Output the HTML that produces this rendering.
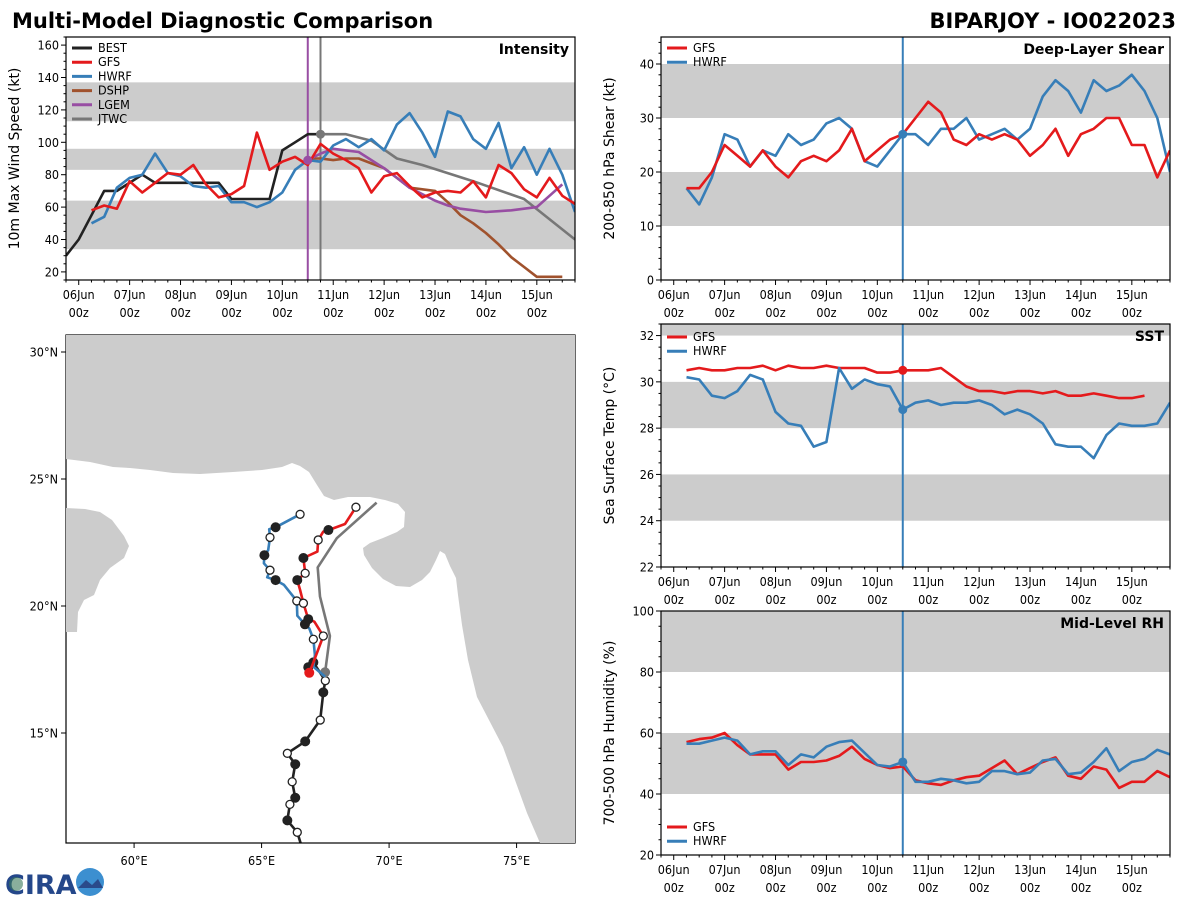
<!DOCTYPE html>
<html><head><meta charset="utf-8">
<style>
html,body{margin:0;padding:0;background:#fff;}
svg text{font-family:"DejaVu Sans","Liberation Sans",sans-serif;}
svg text.tk{font-family:"DejaVu Sans Condensed","DejaVu Sans","Liberation Sans Narrow",sans-serif;}
</style></head>
<body>
<svg id="fig" width="1200" height="900" viewBox="0 0 1200 900" xmlns="http://www.w3.org/2000/svg">
<rect width="1200" height="900" fill="#fff"/>
<text x="12" y="28" font-size="21" font-weight="bold">Multi-Model Diagnostic Comparison</text>
<text x="1176" y="28" font-size="21" font-weight="bold" text-anchor="end">BIPARJOY - IO022023</text>
<g id="logo">
<text x="5" y="894" font-size="27" font-weight="bold" fill="#24478a" font-family="Liberation Sans">CIRA</text>
<circle cx="16" cy="884" r="7" fill="#3a7a5a" opacity="0.6"/>
<circle cx="90" cy="882" r="14" fill="#3c8fd0"/>
<path d="M78,888 L86,880 L92,885 L98,879 L103,888 Z" fill="#2a4a8a"/>
</g>
</svg>
<script>
// ---------------- DATA ----------------
const dayLabels = ["06Jun","07Jun","08Jun","09Jun","10Jun","11Jun","12Jun","13Jun","14Jun","15Jun"];
const bestTimes = [-0.25,0,0.25,0.5,0.75,1,1.25,1.5,1.75,2,2.25,2.5,2.75,3,3.25,3.5,3.75,4,4.25,4.5,4.75];
const bestVmax = [30,40,55,70,70,75,80,75,75,75,75,75,75,65,65,65,65,95,100,105,105];
const gfsVmax = [58,61,59,76,69,75,81,80,86,74,66,68,73,106,83,88,91,86,99,93,89,84,69,79,81,73,66,69,70,69,76,66,86,81,71,66,78,67,62];
const hwrfVmax = [50,54,72,78,80,93,81,79,73,72,73,63,63,60,63,69,83,89,88,98,102,97,102,95,111,118,106,91,119,116,102,96,112,84,97,80,96,80,57];
const dshpVmax = [90,90,89,90,90,87,84,78,72,71,70,63,55,50,44,37,29,23,17,17,17];
const lgemVmax = [89,93,96,95,94,89,84,78,72,68,64,61,59,58,57,57.5,58,59,60,67,74];
const jtwcTimes = [4.75,5.25,5.75,6.25,6.75,7.75,8.75,9.75];
const jtwcVmax = [105,105,101,90,86,76,65,40];
const gfsShear = [17,17,20,25,23,21,24,21,19,22,23,22,24,28,22,24,26,27,30,33,31,26,25,27,26,27,26,23,25,28,23,27,28,30,30,25,25,19,24];
const hwrfShear = [17,14,19,27,26,21,24,23,27,25,26,29,30,28,22,21,24,27,27,25,28,28,30,26,27,28,26,28,34,37,35,31,37,35,36,38,35,30,20];
const gfsSST = [30.5,30.6,30.5,30.5,30.6,30.6,30.7,30.5,30.7,30.6,30.6,30.7,30.6,30.6,30.6,30.4,30.4,30.5,30.5,30.5,30.6,30.2,29.8,29.6,29.6,29.5,29.6,29.6,29.5,29.6,29.4,29.4,29.5,29.4,29.3,29.3,29.4];
const hwrfSST = [30.2,30.1,29.4,29.3,29.6,30.3,30.1,28.7,28.2,28.1,27.2,27.4,30.6,29.7,30.1,29.9,29.8,28.8,29.1,29.2,29.0,29.1,29.1,29.2,29.0,28.6,28.8,28.6,28.2,27.3,27.2,27.2,26.7,27.7,28.2,28.1,28.1,28.2,29.1];
const gfsRH = [57,58,58.5,60,56,53,53,53,48,50.5,50.5,51,52.5,55.5,51.5,49.5,48.5,49,44.5,43.5,43,44.5,45.5,46,48.5,51,46.5,48.5,50.5,52,46,45,49,48,42,44,44,47.5,45.5];
const hwrfRH = [56.5,56.5,57.5,58.5,57.5,53,54,54,49.5,53,52,55.5,57,57.5,53.5,49.5,49,50.5,44,44,45,44.5,43.5,44,47.5,47.5,46.5,47,51,51.5,46.5,47,50.5,55,47.5,50.5,51.5,54.5,53];
const bestLon = [66.55,66.40,66.01,66.11,66.32,66.20,66.32,66.01,66.71,67.30,67.42,67.50,67.03,66.83];
const bestLat = [10.6,11.09,11.56,12.19,12.45,13.08,13.77,14.20,14.67,15.51,16.60,17.06,17.78,17.59];
const bestMark = ["","o","f","o","f","o","f","o","f","o","f","o","f","f"];
const gfsLon = [66.87,67.03,67.42,67.07,66.83,66.64,66.51,66.40,66.71,66.64,67.19,67.22,67.42,67.62,68.27,68.70];
const gfsLat = [17.37,17.78,18.82,19.38,19.48,20.11,20.63,21.02,21.29,21.89,22.14,22.60,22.93,22.99,23.23,23.89];
const gfsMark = ["r","","o","","f","o","","f","o","f","","o","","f","","o"];
const hwrfLon = [67.49,67.03,67.09,67.03,66.87,66.70,66.40,66.38,65.88,65.55,65.22,65.33,65.09,65.11,65.26,65.33,65.30,65.55,66.51];
const hwrfLat = [17.22,17.61,18.07,18.69,19.12,19.28,19.62,20.20,20.83,21.02,21.13,21.41,21.68,22.00,22.20,22.70,23.02,23.10,23.61];
const hwrfMark = ["","","","o","","f","","o","","f","","o","","f","","o","","f","o"];
const jtwcLon = [67.49,67.68,67.29,67.20,67.95,69.51];
const jtwcLat = [17.39,18.82,20.37,21.52,22.67,24.07];
const lonTicks = [60,65,70,75];
const latTicks = [15,20,25,30];

// ---------------- HELPERS ----------------
const NS = "http://www.w3.org/2000/svg";
const svg = document.getElementById("fig");
function el(tag, attrs, parent){
  const e = document.createElementNS(NS, tag);
  for (const k in attrs) e.setAttribute(k, attrs[k]);
  (parent||svg).appendChild(e);
  return e;
}
const C = {best:"#222222", gfs:"#e41a1c", hwrf:"#377eb8", dshp:"#a0522d", lgem:"#984ea3", jtwc:"#777777"};
function seq(start, n){ const a=[]; for(let i=0;i<n;i++) a.push(start+0.25*i); return a; }

function makePanel(cfg){
  const g = el("g", {});
  
  
  const X = t => cfg.x0 + (t - (-0.25)) / 10 * (cfg.x1 - cfg.x0);
  const Y = v => cfg.y1 - (v - cfg.ymin) / (cfg.ymax - cfg.ymin) * (cfg.y1 - cfg.y0);
  cfg.bands.forEach(b => {
    const r = el("rect", {x:cfg.x0, y:Y(Math.min(b[1],cfg.ymax)), width:cfg.x1-cfg.x0, height:Y(b[0])-Y(Math.min(b[1],cfg.ymax)), fill:"#cccccc"}, g);
    
    
  });
  for (let v = cfg.ymin; v <= cfg.ymax + 1e-9; v += cfg.minor) {
    const vv = Math.round(v*100)/100;
    const isMaj = Math.abs((vv - cfg.tick0) / cfg.major - Math.round((vv - cfg.tick0) / cfg.major)) < 1e-6 && vv >= cfg.tick0;
    el("line", {x1:cfg.x0, x2:cfg.x0-(isMaj?5:2.5), y1:Y(vv), y2:Y(vv), stroke:"#000", "stroke-width":1}, g);
    if (isMaj) {
      const t = el("text", {x:cfg.x0-7, y:Y(vv)+4.5, "font-size":12.5, "text-anchor":"end", "class":"tk"}, g);
      t.textContent = String(vv);
      
      
    }
  }
  for (let i = -1; i <= 39; i++) {
    const t = i * 0.25;
    if (t < -0.25 || t > 9.75) continue;
    const maj = (i % 4 === 0);
    el("line", {x1:X(t), x2:X(t), y1:cfg.y1, y2:cfg.y1+(maj?5:2.5), stroke:"#000", "stroke-width":1}, g);
    if (maj && cfg.xlabels) {
      const lab = el("text", {x:X(t), y:cfg.y1+19, "font-size":12.5, "text-anchor":"middle", "class":"tk"}, g);
      lab.textContent = dayLabels[i/4];
      
      
      const lab2 = el("text", {x:X(t), y:cfg.y1+37, "font-size":12.5, "text-anchor":"middle", "class":"tk"}, g);
      lab2.textContent = "00z";
      
      
    }
  }
  const yl = el("text", {transform:`translate(${cfg.x0-47},${(cfg.y0+cfg.y1)/2}) rotate(-90)`, "font-size":14, "text-anchor":"middle"}, g);
  yl.textContent = cfg.ylabel;
  
  
  const cid = "clip-" + cfg.name;
  const cp = el("clipPath", {id:cid}, g);
  el("rect", {x:cfg.x0, y:cfg.y0, width:cfg.x1-cfg.x0, height:cfg.y1-cfg.y0}, cp);
  const plot = el("g", {"clip-path":`url(#${cid})`}, g);
  (cfg.vlines||[]).forEach(v => {
    const l = el("line", {x1:X(v.t), x2:X(v.t), y1:cfg.y0, y2:cfg.y1, stroke:v.color, "stroke-width":2}, plot);
    
    
  });
  cfg.series.forEach(s => {
    const pts = s.t.map((t,i)=>`${X(t).toFixed(1)},${Y(s.v[i]).toFixed(1)}`).join(" ");
    const pl = el("polyline", {points:pts, fill:"none", stroke:s.color, "stroke-width":2.6, "stroke-linejoin":"round"}, plot);
    
    
  });
  (cfg.dots||[]).forEach(d => {
    const c = el("circle", {cx:X(d.t), cy:Y(d.v), r:4.5, fill:d.color}, plot);
    
    
  });
  el("rect", {x:cfg.x0, y:cfg.y0, width:cfg.x1-cfg.x0, height:cfg.y1-cfg.y0, fill:"none", stroke:"#000", "stroke-width":1.2}, g);
  const ti = el("text", {x:cfg.x1-6, y:cfg.y0+17, "font-size":14, "font-weight":"bold", "text-anchor":"end"}, g);
  ti.textContent = cfg.title;
  
  
  drawLegend(g, cfg.x0+6, cfg.legendY, cfg.legend);
  return {X, Y};
}
function drawLegend(g, x, y, items){
  items.forEach((it, i) => {
    const yy = y + i*14.2;
    const ln = el("line", {x1:x, x2:x+20, y1:yy, y2:yy, stroke:it.color, "stroke-width":3}, g);
    
    
    const t = el("text", {x:x+26, y:yy+4, "font-size":12.5, "class":"tk"}, g);
    t.textContent = it.label;
    
    
  });
}

makePanel({name:"intensity-panel", x0:66, x1:575, y0:37, y1:280, ymin:15, ymax:165, tick0:20, major:20, minor:5,
  bands:[[34,64],[83,96],[113,137]], xlabels:true, ylabel:"10m Max Wind Speed (kt)", title:"Intensity",
  vlines:[{t:4.5,color:C.lgem},{t:4.75,color:C.jtwc}],
  series:[
    {key:"best", t:bestTimes, v:bestVmax, color:C.best},
    {key:"jtwc", t:jtwcTimes, v:jtwcVmax, color:C.jtwc},
    {key:"dshp", t:seq(4.5,dshpVmax.length), v:dshpVmax, color:C.dshp},
    {key:"lgem", t:seq(4.5,lgemVmax.length), v:lgemVmax, color:C.lgem},
    {key:"hwrf", t:seq(0.25,hwrfVmax.length), v:hwrfVmax, color:C.hwrf},
    {key:"gfs", t:seq(0.25,gfsVmax.length), v:gfsVmax, color:C.gfs}
  ],
  dots:[{t:4.5,v:lgemVmax[0],color:C.lgem},{t:4.75,v:jtwcVmax[0],color:C.jtwc}],
  legendY:48,
  legend:[{label:"BEST",color:C.best},{label:"GFS",color:C.gfs},{label:"HWRF",color:C.hwrf},{label:"DSHP",color:C.dshp},{label:"LGEM",color:C.lgem},{label:"JTWC",color:C.jtwc}]
});
makePanel({name:"shear-panel", x0:661, x1:1170, y0:37, y1:280, ymin:0, ymax:45, tick0:0, major:10, minor:2,
  bands:[[10,20],[30,40]], xlabels:true, ylabel:"200-850 hPa Shear (kt)", title:"Deep-Layer Shear",
  vlines:[{t:4.5,color:C.hwrf}],
  series:[{key:"hwrf", t:seq(0.25,hwrfShear.length), v:hwrfShear, color:C.hwrf},{key:"gfs", t:seq(0.25,gfsShear.length), v:gfsShear, color:C.gfs}],
  dots:[{t:4.5,v:hwrfShear[17],color:C.hwrf}],
  legendY:48, legend:[{label:"GFS",color:C.gfs},{label:"HWRF",color:C.hwrf}]
});
makePanel({name:"sst-panel", x0:661, x1:1170, y0:324, y1:567, ymin:22, ymax:32.5, tick0:22, major:2, minor:0.5,
  bands:[[24,26],[28,30],[32,32.5]], xlabels:true, ylabel:"Sea Surface Temp (°C)", title:"SST",
  vlines:[{t:4.5,color:C.hwrf}],
  series:[{key:"gfs", t:seq(0.25,gfsSST.length), v:gfsSST, color:C.gfs},{key:"hwrf", t:seq(0.25,hwrfSST.length), v:hwrfSST, color:C.hwrf}],
  dots:[{t:4.5,v:gfsSST[17],color:C.gfs},{t:4.5,v:hwrfSST[17],color:C.hwrf}],
  legendY:337, legend:[{label:"GFS",color:C.gfs},{label:"HWRF",color:C.hwrf}]
});
makePanel({name:"rh-panel", x0:661, x1:1170, y0:611, y1:855, ymin:20, ymax:100, tick0:20, major:20, minor:5,
  bands:[[40,60],[80,100]], xlabels:true, ylabel:"700-500 hPa Humidity (%)", title:"Mid-Level RH",
  vlines:[{t:4.5,color:C.hwrf}],
  series:[{key:"gfs", t:seq(0.25,gfsRH.length), v:gfsRH, color:C.gfs},{key:"hwrf", t:seq(0.25,hwrfRH.length), v:hwrfRH, color:C.hwrf}],
  dots:[{t:4.5,v:hwrfRH[17],color:C.hwrf}],
  legendY:827, legend:[{label:"GFS",color:C.gfs},{label:"HWRF",color:C.hwrf}]
});

(function(){
  const x0=66,x1=575,y0=335,y1=843;
  const LX = lon => x0 + (lon - 57.33) * 25.5;
  const LY = lat => 606 - (lat - 20) * 25.4;
  const g = el("g", {});
  
  
  const cp = el("clipPath", {id:"clip-track"}, g);
  el("rect", {x:x0, y:y0, width:x1-x0, height:y1-y0}, cp);
  const m = el("g", {"clip-path":"url(#clip-track)"}, g);
  el("rect", {x:x0, y:y0, width:x1-x0, height:y1-y0, fill:"#fff"}, m);
  const land = el("polygon", {fill:"#cccccc", points:"66,335 575,335 575,843 540,843 527,813 515,780 503,747 490,722 477,697 468,660 462,625 458,595 456,578 450,566 445,554 440,551 436,560 430,572 422,580 410,587 396,586 383,579 372,568 364,555 363,548 370,543 383,538 397,532 404,527 405,512 398,504 385,500 370,497 357,497 348,497 334,500 324,496 317,485 309,472 300,466 292,463 282,467 262,470 233,472 200,474 173,473 150,470 130,468 113,467 90,462 66,459"});
  
  
  const oman = el("polygon", {fill:"#cccccc", points:"66,508 85,509 100,512 112,520 124,536 129,546 124,558 110,568 100,580 94,595 84,600 78,612 77,632 66,632"});
  
  
  const borders = el("path", {fill:"none", stroke:"#fff", "stroke-width":1, d:"M157,355 L205,365 L250,358 L292,352 L296,340 M205,365 L200,392 M250,358 L255,335 M317,485 L320,420 L350,395 L375,390 L395,410 L390,430 L410,445 L415,470 L420,490 M400,403 L450,395 L470,360 L500,350 M420,490 L460,495 L480,510 L500,520 L540,525 L575,518 M470,600 L500,580 L540,570 L575,580 M480,700 L510,690 L545,700 L575,690 M66,520 L98,525 L112,545 M95,575 L90,560"});
  
  
  m.appendChild(borders);
  function track(key, lons, lats, color, marks){
    const pts = lons.map((lo,i)=>`${LX(lo).toFixed(1)},${LY(lats[i]).toFixed(1)}`).join(" ");
    const pl = el("polyline", {points:pts, fill:"none", stroke:color, "stroke-width":2.6, "stroke-linejoin":"round"}, m);
    
    
    (marks||[]).forEach((mk,i)=>{
      if (!mk) return;
      let attrs;
      if (mk==="f") attrs = {r:4.5, fill:"#222", stroke:"#222"};
      else if (mk==="o") attrs = {r:4, fill:"#fff", stroke:"#222", "stroke-width":1.3};
      else attrs = {r:4.5, fill:color, stroke:color};
      attrs.cx = LX(lons[i]); attrs.cy = LY(lats[i]);
      const c = el("circle", attrs, m);
      
      
    });
  }
  track("best", bestLon, bestLat, C.best, bestMark);
  track("jtwc", jtwcLon, jtwcLat, C.jtwc, ["r","","","","",""]);
  track("hwrf", hwrfLon, hwrfLat, C.hwrf, hwrfMark);
  track("gfs", gfsLon, gfsLat, C.gfs, gfsMark);
  el("rect", {x:x0, y:y0, width:x1-x0, height:y1-y0, fill:"none", stroke:"#000", "stroke-width":1.2}, g);
  lonTicks.forEach(lo=>{
    el("line", {x1:LX(lo), x2:LX(lo), y1:y1, y2:y1+5, stroke:"#000"}, g);
    const t = el("text", {x:LX(lo), y:y1+22, "font-size":12.5, "text-anchor":"middle", "class":"tk"}, g);
    t.textContent = lo + "°E";
    
    
  });
  latTicks.forEach(la=>{
    el("line", {x1:x0, x2:x0-5, y1:LY(la), y2:LY(la), stroke:"#000"}, g);
    const t = el("text", {x:x0-8, y:LY(la)+4.5, "font-size":12.5, "text-anchor":"end", "class":"tk"}, g);
    t.textContent = la + "°N";
    
    
  });
  const ti = el("text", {x:x1-6, y:y0+20, "font-size":14, "font-weight":"bold", "text-anchor":"end"}, g);
  ti.textContent = "Track";
  
  
  drawLegend(g, x0+6, y0+13, [{label:"BEST",color:C.best},{label:"GFS",color:C.gfs},{label:"HWRF",color:C.hwrf},{label:"JTWC",color:C.jtwc}]);
})();
</script>
</body></html>
